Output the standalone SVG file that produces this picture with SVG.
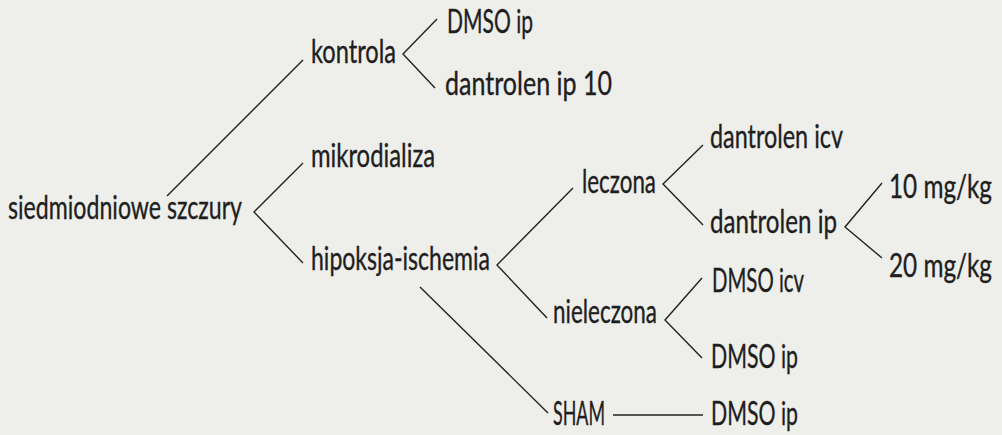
<svg xmlns="http://www.w3.org/2000/svg" width="1002" height="435" viewBox="0 0 1002 435">
<style>
text{font-family:Lato,"Open Sans","Liberation Sans",sans-serif;font-size:32px;fill:#1e1e1e;stroke:#1e1e1e;stroke-width:0.35;}
.c line,.c polyline{stroke:#222;stroke-width:1.4;fill:none;}
</style>
<rect width="1002" height="435" fill="#eeeeeb"/>
<g class="c" id="connectors">
<line x1="167" y1="196" x2="303" y2="60"/>
<polyline points="303,163 254,212 303,263"/>
<polyline points="437,19 403,54 435,88"/>
<polyline points="573,188 497,265 547,318"/>
<line x1="420" y1="287" x2="548" y2="413"/>
<polyline points="703,145 663,184 703,225"/>
<polyline points="882,183 845,227 882,258"/>
<polyline points="702,278 665,320 702,358"/>
<line x1="613" y1="415" x2="703" y2="415"/>
</g>
<g id="n-root"><text x="8" y="219" textLength="234" lengthAdjust="spacingAndGlyphs">siedmiodniowe  szczury</text></g>
<g id="n-kontrola"><text x="311" y="63" textLength="85" lengthAdjust="spacingAndGlyphs">kontrola</text></g>
<g id="n-dmso-ip-1"><text x="447" y="33" textLength="86" lengthAdjust="spacingAndGlyphs">DMSO  ip</text></g>
<g id="n-dantrolen-ip-10"><text x="445" y="95" textLength="167" lengthAdjust="spacingAndGlyphs">dantrolen  ip  10</text></g>
<g id="n-mikrodializa"><text x="311" y="167" textLength="124" lengthAdjust="spacingAndGlyphs">mikrodializa</text></g>
<g id="n-hipoksja"><text x="311" y="270" textLength="179" lengthAdjust="spacingAndGlyphs">hipoksja-ischemia</text></g>
<g id="n-leczona"><text x="582" y="193" textLength="74" lengthAdjust="spacingAndGlyphs">leczona</text></g>
<g id="n-dantrolen-icv"><text x="710" y="148" textLength="133" lengthAdjust="spacingAndGlyphs">dantrolen  icv</text></g>
<g id="n-dantrolen-ip"><text x="710" y="233" textLength="127" lengthAdjust="spacingAndGlyphs">dantrolen  ip</text></g>
<g id="n-10mg"><text x="889" y="198" textLength="103" lengthAdjust="spacingAndGlyphs">10  mg/kg</text></g>
<g id="n-20mg"><text x="889" y="277" textLength="103" lengthAdjust="spacingAndGlyphs">20  mg/kg</text></g>
<g id="n-nieleczona"><text x="553" y="323" textLength="104" lengthAdjust="spacingAndGlyphs">nieleczona</text></g>
<g id="n-dmso-icv"><text x="712" y="292" textLength="92" lengthAdjust="spacingAndGlyphs">DMSO  icv</text></g>
<g id="n-dmso-ip-2"><text x="711" y="368" textLength="87" lengthAdjust="spacingAndGlyphs">DMSO  ip</text></g>
<g id="n-sham"><text x="553" y="425" textLength="52" lengthAdjust="spacingAndGlyphs">SHAM</text></g>
<g id="n-dmso-ip-3"><text x="711" y="425" textLength="87" lengthAdjust="spacingAndGlyphs">DMSO  ip</text></g>
</svg>
